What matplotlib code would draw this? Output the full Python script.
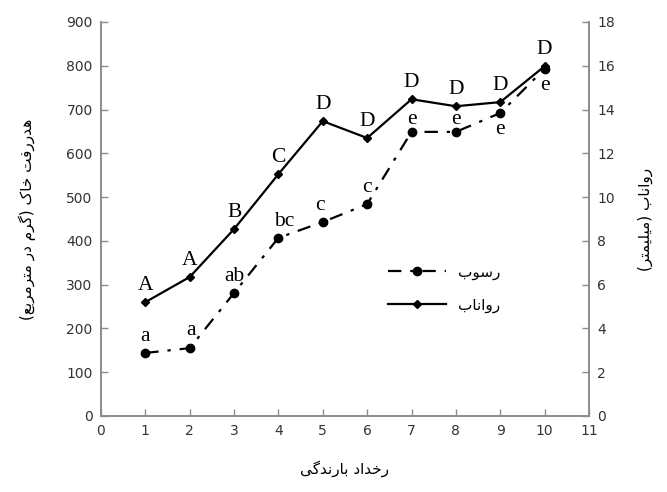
#!/usr/bin/env python3
"""Soil loss and runoff per rainfall event, two y axes."""
import matplotlib
matplotlib.use("Agg")
import matplotlib.pyplot as plt

events   = [1, 2, 3, 4, 5, 6, 7, 8, 9, 10]
sediment = [144, 155, 281, 407, 443, 484, 649, 649, 692, 793]      # g/m2
runoff   = [5.2, 6.35, 8.54, 11.05, 13.47, 12.7, 14.47, 14.15, 14.34, 15.98]  # mm
sed_grp  = ["a", "a", "ab", "bc", "c", "c", "e", "e", "e", "e"]
run_grp  = ["A", "A", "B", "C", "D", "D", "D", "D", "D", "D"]

ylabel_left  = "هدررفت خاک (گرم در مترمربع)"
ylabel_right = "رواناب (میلیمتر)"
xlabel       = "رخداد بارندگی"
leg_sed      = "رسوب"
leg_run      = "رواناب"

# matplotlib 3.10 has no Arabic shaping: pick presentation forms by hand
FORMS = {
    "ا": ("\uFE8D", "\uFE8E"),
    "ب": ("\uFE8F", "\uFE90", "\uFE91", "\uFE92"),
    "ت": ("\uFE95", "\uFE96", "\uFE97", "\uFE98"),
    "خ": ("\uFEA5", "\uFEA6", "\uFEA7", "\uFEA8"),
    "د": ("\uFEA9", "\uFEAA"),
    "ر": ("\uFEAD", "\uFEAE"),
    "س": ("\uFEB1", "\uFEB2", "\uFEB3", "\uFEB4"),
    "ع": ("\uFEC9", "\uFECA", "\uFECB", "\uFECC"),
    "ف": ("\uFED1", "\uFED2", "\uFED3", "\uFED4"),
    "ل": ("\uFEDD", "\uFEDE", "\uFEDF", "\uFEE0"),
    "م": ("\uFEE1", "\uFEE2", "\uFEE3", "\uFEE4"),
    "ن": ("\uFEE5", "\uFEE6", "\uFEE7", "\uFEE8"),
    "ه": ("\uFEE9", "\uFEEA", "\uFEEB", "\uFEEC"),
    "و": ("\uFEED", "\uFEEE"),
    "ک": ("\uFB8E", "\uFB8F", "\uFB90", "\uFB91"),
    "گ": ("\uFB92", "\uFB93", "\uFB94", "\uFB95"),
    "ی": ("\uFBFC", "\uFBFD", "\uFBFE", "\uFBFF"),
}

def fa(s):
    dual = lambda c: c in FORMS and len(FORMS[c]) == 4
    out = []
    for i, c in enumerate(s):
        if c not in FORMS:
            out.append(c)
            continue
        f = FORMS[c]
        prev = s[i - 1] if i > 0 else ""
        nxt = s[i + 1] if i + 1 < len(s) else ""
        jp = dual(prev)
        jn = dual(c) and nxt in FORMS
        if jp and jn:
            out.append(f[3])
        elif jp:
            out.append(f[1])
        elif jn:
            out.append(f[2])
        else:
            out.append(f[0])
    return "".join(out)[::-1].translate(str.maketrans("()", ")("))

GRAY = "#8c8c8c"
SERIF = "Liberation Serif"

fig = plt.figure(figsize=(6.67, 4.92), dpi=100)
ax1 = fig.add_axes([0.1514, 0.1545, 0.7316, 0.8008])
ax2 = ax1.twinx()

l1, = ax1.plot(events, sediment, color="black", lw=1.6, dashes=(6, 4, 1.5, 4),
               marker="o", ms=6, label=fa(leg_sed), zorder=3)
l2, = ax2.plot(events, runoff, color="black", lw=1.6, marker="D", ms=4.5,
               label=fa(leg_run), zorder=3)

ax1.set_xlim(0, 11)
ax1.set_ylim(0, 900)
ax2.set_ylim(0, 18)
ax1.set_xticks(range(0, 12))
ax1.set_yticks(range(0, 901, 100))
ax2.set_yticks(range(0, 19, 2))

for ax in (ax1, ax2):
    ax.spines["top"].set_visible(False)
    for s in ("left", "right", "bottom"):
        ax.spines[s].set_color(GRAY)
        ax.spines[s].set_linewidth(1.2)
    ax.tick_params(direction="in", length=5, width=1, color=GRAY,
                   labelsize=10, labelcolor="#333333", pad=6)

# group letters
for x, y, t in zip(events, runoff, run_grp):
    ax2.annotate(t, (x, y), xytext=(0, 5), textcoords="offset points",
                 ha="center", va="bottom", fontsize=15.5, family=SERIF)

sed_offsets = [(0, 5), (1, 6), (0, 5), (4, 5), (-2, 5), (0, 5),
               (0, 2), (0, 2), (0, -5), (0, -5)]
for (x, y, t), (dx, dy) in zip(zip(events, sediment, sed_grp), sed_offsets):
    ax1.annotate(t, (x, y), xytext=(dx, dy), textcoords="offset points",
                 ha="center", va="bottom" if dy > 0 else "top",
                 fontsize=15.5, family=SERIF)

ax1.set_ylabel(fa(ylabel_left), fontsize=11, labelpad=22)
ax2.set_ylabel(fa(ylabel_right), fontsize=11, rotation=90, labelpad=16)
ax1.set_xlabel(fa(xlabel), fontsize=11, labelpad=16)

ax1.legend(handles=[l1, l2], loc="upper left", bbox_to_anchor=(0.56, 0.42),
           frameon=False, handlelength=3.8, fontsize=11, labelspacing=1.2)

fig.savefig("out.png", dpi=100)
